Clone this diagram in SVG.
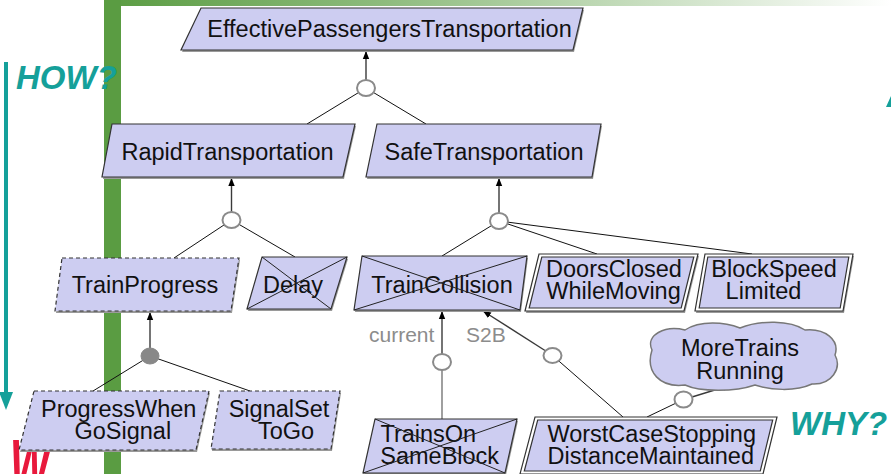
<svg xmlns="http://www.w3.org/2000/svg" width="891" height="474" viewBox="0 0 891 474">
  <defs>
    <linearGradient id="topBar" x1="0" y1="0" x2="1" y2="0">
      <stop offset="0" stop-color="#5a9c42"/>
      <stop offset="0.35" stop-color="#8dbb7c"/>
      <stop offset="1" stop-color="#ffffff"/>
    </linearGradient>
    <marker id="arrow" viewBox="0 0 8 8" refX="8" refY="4" markerWidth="8" markerHeight="8" markerUnits="userSpaceOnUse" orient="auto">
      <path d="M0,0.8 L8,4 L0,7.2 Z" fill="#000"/>
    </marker>
  </defs>
  <style>
    .goal { fill: #cdcdf1; stroke: #333; stroke-width: 1.2; }
    .dashed { stroke-dasharray: 4 3; }
    .shadow { fill: #9a9a9a; }
    .outer { fill: #ffffff; stroke: #333; stroke-width: 1.2; }
    .cross { stroke: #222; stroke-width: 1; fill: none; }
    .label { font-family: "Liberation Sans", Arial, sans-serif; font-size: 23.5px; fill: #111; text-anchor: middle; }
    .tag { font-family: "Liberation Sans", Arial, sans-serif; font-size: 21px; fill: #8c8c8c; }
    .link { stroke: #111; stroke-width: 1; fill: none; }
    .up { stroke: #3a3a3a; stroke-width: 1.4; fill: none; marker-end: url(#arrow); }
    .grayup { stroke: #777; stroke-width: 1.4; fill: none; }
    .ornode { fill: #ffffff; stroke: #8a8a8a; stroke-width: 2; }
    .andnode { fill: #888; stroke: #888; stroke-width: 1; }
    .teal { fill: #15a09a; }
    .side { font-family: "Liberation Sans", Arial, sans-serif; font-size: 33px; font-weight: bold; font-style: italic; fill: #15a09a; }
  </style>

  <!-- slide frame -->
  <rect x="104" y="0" width="787" height="6" fill="url(#topBar)"/>
  <rect x="104" y="0" width="17" height="474" fill="#5a9c42"/>

  <!-- side annotations -->
  <rect x="4" y="62" width="4" height="332" class="teal"/>
  <polygon points="-1,392 13,392 6,410" class="teal"/>
  <polygon points="886,107 891,96 891,107" class="teal"/>
  <text x="10" y="490" font-family="Liberation Sans, Arial, sans-serif" font-size="72" font-weight="bold" font-style="italic" fill="#e8193c" textLength="40" lengthAdjust="spacingAndGlyphs">W</text>

  <!-- connectors -->
  <g id="connectors">
    <!-- EffectivePassengersTransportation decomposition -->
    <line class="link" x1="366" y1="88" x2="307" y2="124"/>
    <line class="link" x1="366" y1="88" x2="426" y2="124"/>
    <line class="up" x1="366" y1="80" x2="366" y2="51"/>
    <ellipse class="ornode" cx="366" cy="88" rx="9" ry="8"/>

    <!-- RapidTransportation decomposition -->
    <line class="link" x1="231.5" y1="220" x2="174" y2="258"/>
    <line class="link" x1="231.5" y1="220" x2="295" y2="257"/>
    <line class="up" x1="231.5" y1="212" x2="231.5" y2="178"/>
    <ellipse class="ornode" cx="231.5" cy="220" rx="9" ry="8"/>

    <!-- SafeTransportation decomposition -->
    <line class="link" x1="499" y1="221" x2="442" y2="256"/>
    <line class="link" x1="499" y1="221" x2="597" y2="254"/>
    <line class="link" x1="499" y1="221" x2="752" y2="254"/>
    <line class="up" x1="499" y1="213" x2="499" y2="178"/>
    <ellipse class="ornode" cx="499" cy="221" rx="9" ry="8"/>

    <!-- TrainProgress AND decomposition -->
    <line class="link" x1="150" y1="356" x2="93" y2="391"/>
    <line class="link" x1="150" y1="356" x2="250" y2="391"/>
    <line class="up" x1="150" y1="348" x2="150" y2="312"/>
    <ellipse class="andnode" cx="150" cy="356" rx="9" ry="8"/>

    <!-- TrainCollision contributions -->
    <line class="grayup" x1="442" y1="419" x2="442" y2="362"/>
    <line class="up" x1="442" y1="354" x2="442" y2="311"/>
    <ellipse class="ornode" cx="442" cy="362" rx="9" ry="8"/>

    <line class="link" x1="623" y1="417" x2="552.5" y2="355.5"/>
    <line class="up" x1="545" y1="350.5" x2="483" y2="311"/>
    <ellipse class="ornode" cx="552.5" cy="355.5" rx="9" ry="7.5"/>

    <!-- MoreTrainsRunning contribution -->
    <line class="link" x1="647" y1="417" x2="683.5" y2="399.5"/>
    <line class="up" x1="692" y1="397" x2="731" y2="385"/>
    <ellipse class="ornode" cx="683.5" cy="399.5" rx="9" ry="8"/>
  </g>

  <!-- goal nodes -->
  <g id="n-effective">
    <polygon class="shadow" points="202,10 584,10 574,52 182,52"/>
    <polygon class="goal" points="201,8 583,8 573,50 181,50"/>
    <text class="label" x="389.5" y="37">EffectivePassengersTransportation</text>
  </g>

  <g id="n-rapid">
    <polygon class="shadow" points="113,126 356,126 344,179 103,179"/>
    <polygon class="goal" points="112,124 355,124 343,177 102,177"/>
    <text class="label" x="227.5" y="160">RapidTransportation</text>
  </g>

  <g id="n-safe">
    <polygon class="shadow" points="378,126 602,126 593,179 367,179"/>
    <polygon class="goal" points="377,124 601,124 592,177 366,177"/>
    <text class="label" x="484" y="160">SafeTransportation</text>
  </g>

  <g id="n-trainprogress">
    <polygon class="shadow" points="63,260 240,260 232,313 56,313"/>
    <polygon class="goal dashed" points="62,258 239,258 231,311 55,311"/>
    <text class="label" x="145" y="293">TrainProgress</text>
  </g>

  <g id="n-delay">
    <polygon class="shadow" points="263,259 348,259 332,311 248,311"/>
    <polygon class="goal" points="262,257 347,257 331,309 247,309"/>
    <text class="label" x="293" y="293">Delay</text>
    <line class="cross" x1="262" y1="257" x2="331" y2="309"/>
    <line class="cross" x1="347" y1="257" x2="247" y2="309"/>
  </g>

  <g id="n-traincollision">
    <polygon class="shadow" points="363,258 528,258 521,312 355,312"/>
    <polygon class="goal" points="362,256 527,256 520,310 354,310"/>
    <text class="label" x="442" y="293">TrainCollision</text>
    <line class="cross" x1="362" y1="256" x2="520" y2="310"/>
    <line class="cross" x1="527" y1="256" x2="354" y2="310"/>
  </g>

  <g id="n-doors">
    <polygon class="shadow" points="540,256 699,256 685,313 526,313"/>
    <polygon class="outer" points="539,254 698,254 684,311 525,311"/>
    <polygon class="goal" points="541.8,257 693.8,257 681.2,308 529.2,308"/>
    <text class="label" x="614" y="277">DoorsClosed</text>
    <text class="label" x="613.5" y="298.5">WhileMoving</text>
  </g>

  <g id="n-blockspeed">
    <polygon class="shadow" points="706,256 854,256 844,313 696,313"/>
    <polygon class="outer" points="705,254 853,254 843,311 695,311"/>
    <polygon class="goal" points="707.8,257 848.8,257 840.2,308 699.2,308"/>
    <text class="label" x="774" y="277">BlockSpeed</text>
    <text class="label" x="763.5" y="298.5">Limited</text>
  </g>

  <g id="n-progresswhen">
    <polygon class="shadow" points="35,393 210,393 197,452 20,452"/>
    <polygon class="goal dashed" points="34,391 209,391 196,450 19,450"/>
    <text class="label" x="118.7" y="416.7">ProgressWhen</text>
    <text class="label" x="122.8" y="439.3">GoSignal</text>
  </g>

  <g id="n-signalset">
    <polygon class="shadow" points="221,393 341,393 332,451 212,451"/>
    <polygon class="goal dashed" points="220,391 340,391 331,449 211,449"/>
    <text class="label" x="279" y="416.7">SignalSet</text>
    <text class="label" x="286" y="439">ToGo</text>
  </g>

  <g id="n-trainsonsameblock">
    <polygon class="shadow" points="376,421 518,421 506,475 364,475"/>
    <polygon class="goal" points="375,419 517,419 505,473 363,473"/>
    <text class="label" x="428.3" y="441.7">TrainsOn</text>
    <text class="label" x="439.7" y="464">SameBlock</text>
    <line class="cross" x1="375" y1="419" x2="505" y2="473"/>
    <line class="cross" x1="517" y1="419" x2="363" y2="473"/>
  </g>

  <g id="n-worstcase">
    <polygon class="outer" points="535,417 777,417 763,474 520,474"/>
    <polygon class="goal" points="537.7,420 772.7,420 760.3,471 524.3,471"/>
    <text class="label" x="651.7" y="441.7">WorstCaseStopping</text>
    <text class="label" x="650.8" y="464">DistanceMaintained</text>
  </g>

  <g id="n-moretrains">
    <path d="M652,350 C645,335 665,325 685,330 C700,320 725,322 740,328 C760,320 790,320 805,330 C825,328 840,340 835,355 C842,368 832,385 812,384 C795,392 770,390 755,385 C735,392 700,392 685,385 C660,388 645,372 652,350 Z" fill="#cdcdf1" stroke="#777" stroke-width="1.5"/>
    <text class="label" x="740" y="356">MoreTrains</text>
    <text class="label" x="740" y="379">Running</text>
  </g>

  <!-- link annotations -->
  <text class="tag" x="369" y="341.7">current</text>
  <text class="tag" x="466" y="341.7">S2B</text>

  <!-- HOW / WHY -->
  <text class="side" x="16" y="89">HOW?</text>
  <text class="side" x="790" y="435">WHY?</text>
</svg>
